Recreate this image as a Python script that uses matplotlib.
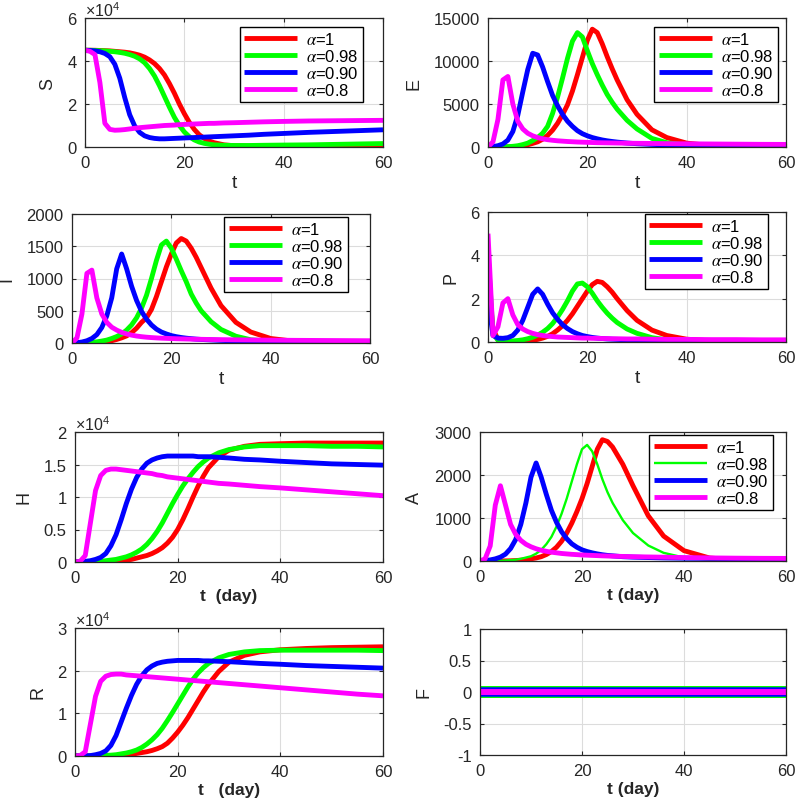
import matplotlib
matplotlib.use("Agg")
import matplotlib.pyplot as plt
from matplotlib.ticker import FuncFormatter

plt.rcParams['font.family'] = ['Liberation Sans', 'DejaVu Sans']
plt.rcParams['mathtext.fontset'] = 'stix'

# ----------------- Data -----------------
t = [0, 1, 2, 3, 4, 5, 6, 7, 8, 9, 10, 11, 12, 13, 14, 15, 16, 17, 18, 19, 20,
     21, 22, 23, 24, 25, 26, 28, 30, 33, 36, 40, 45, 50, 55, 60]

labels = [r'$\alpha$=1', r'$\alpha$=0.98', r'$\alpha$=0.90', r'$\alpha$=0.8']
colors = ['#ff0000', '#00ff00', '#0000ff', '#ff00ff']

# S (x 1e4)
S_vals = [
    [4.5, 4.5, 4.5, 4.49, 4.48, 4.47, 4.45, 4.43, 4.41, 4.38, 4.33, 4.27, 4.18, 4.05, 3.88,
     3.65, 3.35, 2.95, 2.5, 2.0, 1.55, 1.15, 0.82, 0.57, 0.4, 0.28, 0.2,
     0.1, 0.06, 0.04, 0.03, 0.03, 0.03, 0.03, 0.03, 0.03],
    [4.5, 4.5, 4.49, 4.48, 4.47, 4.45, 4.43, 4.4, 4.36, 4.3, 4.22, 4.1, 3.92, 3.65, 3.3,
     2.85, 2.35, 1.85, 1.38, 1.0, 0.7, 0.48, 0.33, 0.23, 0.17, 0.13, 0.1,
     0.08, 0.07, 0.07, 0.08, 0.09, 0.1, 0.12, 0.14, 0.16],
    [4.5, 4.49, 4.47, 4.43, 4.35, 4.2, 3.85, 3.2, 2.3, 1.5, 0.98, 0.68, 0.52, 0.44, 0.4,
     0.38, 0.38, 0.39, 0.4, 0.41, 0.42, 0.43, 0.44, 0.45, 0.46, 0.47, 0.48,
     0.5, 0.52, 0.55, 0.59, 0.63, 0.68, 0.72, 0.76, 0.8],
    [4.5, 4.45, 4.3, 3.0, 1.1, 0.82, 0.78, 0.79, 0.81, 0.84, 0.87, 0.9, 0.92, 0.94, 0.96,
     0.98, 1.0, 1.01, 1.02, 1.04, 1.05, 1.06, 1.07, 1.08, 1.09, 1.1, 1.1,
     1.12, 1.13, 1.15, 1.17, 1.19, 1.21, 1.22, 1.23, 1.24],
]

E_vals = [
    [0, 0, 0, 5, 10, 30, 70, 140, 260, 420, 600, 900, 1350, 1950, 2750,
     3750, 4900, 6500, 8400, 10400, 12400, 13700, 13300, 12000, 10500, 9100, 7800,
     5500, 3800, 2000, 1100, 450, 150, 50, 20, 10],
    [0, 0, 5, 15, 40, 80, 150, 280, 450, 750, 1100, 1600, 2400, 3900, 5800,
     8000, 10300, 12300, 13300, 12800, 11200, 9700, 8400, 7200, 6100, 5200, 4400,
     3100, 2100, 1000, 500, 200, 70, 30, 10, 5],
    [0, 50, 150, 350, 800, 1800, 3700, 6400, 9000, 10900, 10700, 9300, 7600, 6000, 4800,
     3800, 3000, 2400, 1900, 1550, 1300, 1100, 950, 820, 720, 640, 570,
     460, 380, 300, 250, 200, 160, 130, 110, 100],
    [0, 600, 3200, 7800, 8200, 5000, 3000, 2100, 1600, 1300, 1100, 950, 850, 780, 720,
     680, 640, 610, 580, 560, 540, 520, 500, 490, 480, 470, 460,
     440, 430, 410, 390, 370, 350, 330, 310, 300],
]

I_vals = [
    [0, 0, 0, 2, 4, 8, 14, 22, 35, 55, 80, 110, 160, 230, 320,
     390, 520, 720, 950, 1180, 1380, 1550, 1620, 1580, 1470, 1330, 1170,
     850, 580, 320, 170, 70, 25, 10, 5, 3],
    [0, 0, 2, 5, 10, 18, 30, 45, 70, 100, 140, 200, 280, 390, 540,
     740, 1000, 1280, 1520, 1580, 1470, 1300, 1120, 950, 760, 620, 500,
     330, 210, 105, 50, 25, 10, 4, 2, 1],
    [0, 5, 15, 35, 70, 130, 240, 420, 700, 1150, 1380, 1150, 880, 660, 490,
     370, 280, 215, 170, 140, 115, 98, 85, 75, 67, 60, 55,
     47, 40, 33, 28, 23, 19, 16, 14, 12],
    [0, 80, 450, 1080, 1130, 700, 450, 320, 245, 200, 165, 140, 122, 108, 98,
     90, 84, 79, 75, 72, 69, 66, 64, 62, 60, 58, 57,
     54, 52, 49, 47, 44, 41, 39, 37, 35],
]

P_vals = [
    [3.0, 0.6, 0.12, 0.05, 0.03, 0.02, 0.02, 0.03, 0.05, 0.08, 0.12, 0.18, 0.26, 0.38, 0.55,
     0.75, 1.0, 1.3, 1.65, 2.0, 2.35, 2.65, 2.8, 2.75, 2.55, 2.3, 2.0,
     1.45, 1.0, 0.55, 0.3, 0.13, 0.05, 0.02, 0.01, 0.01],
    [4.1, 0.4, 0.08, 0.04, 0.04, 0.05, 0.07, 0.1, 0.15, 0.22, 0.32, 0.45, 0.62, 0.85, 1.15,
     1.5, 1.9, 2.35, 2.68, 2.72, 2.55, 2.25, 1.9, 1.6, 1.33, 1.1, 0.9,
     0.6, 0.4, 0.2, 0.1, 0.05, 0.02, 0.01, 0.01, 0.01],
    [2.0, 0.3, 0.18, 0.17, 0.2, 0.3, 0.55, 1.0, 1.6, 2.2, 2.45, 2.2, 1.75, 1.35, 1.05,
     0.8, 0.62, 0.48, 0.38, 0.3, 0.25, 0.21, 0.18, 0.16, 0.14, 0.13, 0.12,
     0.1, 0.09, 0.08, 0.07, 0.06, 0.06, 0.05, 0.05, 0.05],
    [5.0, 0.3, 0.7, 1.8, 2.0, 1.25, 0.8, 0.6, 0.48, 0.4, 0.34, 0.3, 0.27, 0.25, 0.23,
     0.22, 0.21, 0.2, 0.19, 0.18, 0.18, 0.17, 0.17, 0.16, 0.16, 0.15, 0.15,
     0.14, 0.14, 0.13, 0.12, 0.12, 0.11, 0.11, 0.1, 0.1],
]

# H (x 1e4)
H_vals = [
    [0, 0, 0, 0, 0, 0, 0.005, 0.008, 0.01, 0.02, 0.03, 0.04, 0.06, 0.08, 0.1,
     0.13, 0.17, 0.22, 0.29, 0.38, 0.5, 0.65, 0.82, 1.0, 1.17, 1.32, 1.45,
     1.62, 1.72, 1.78, 1.81, 1.82, 1.83, 1.83, 1.83, 1.83],
    [0, 0, 0, 0, 0.005, 0.01, 0.02, 0.03, 0.04, 0.06, 0.08, 0.11, 0.15, 0.2, 0.27,
     0.36, 0.47, 0.6, 0.75, 0.9, 1.04, 1.17, 1.28, 1.38, 1.47, 1.54, 1.6,
     1.68, 1.73, 1.77, 1.79, 1.79, 1.79, 1.78, 1.78, 1.77],
    [0, 0.005, 0.01, 0.02, 0.04, 0.07, 0.13, 0.25, 0.42, 0.65, 0.9, 1.12, 1.3, 1.43, 1.52,
     1.57, 1.6, 1.62, 1.63, 1.63, 1.63, 1.63, 1.63, 1.63, 1.62, 1.62, 1.62,
     1.61, 1.6, 1.58, 1.57, 1.55, 1.53, 1.51, 1.5, 1.49],
    [0, 0.01, 0.1, 0.6, 1.1, 1.33, 1.41, 1.43, 1.43, 1.42, 1.41, 1.4, 1.39, 1.38, 1.37,
     1.36, 1.34, 1.33, 1.31, 1.3, 1.29, 1.28, 1.27, 1.26, 1.25, 1.24, 1.23,
     1.21, 1.2, 1.18, 1.16, 1.14, 1.11, 1.08, 1.05, 1.02],
]

A_vals = [
    [0, 0, 0, 0, 2, 3, 5, 10, 20, 30, 50, 70, 100, 150, 220,
     320, 460, 650, 880, 1150, 1450, 1800, 2200, 2600, 2820, 2780, 2650,
     2250, 1750, 1050, 580, 240, 70, 25, 10, 5],
    [0, 0, 0, 2, 5, 10, 20, 30, 50, 80, 110, 170, 260, 390, 560,
     800, 1100, 1450, 1850, 2250, 2600, 2700, 2550, 2250, 1900, 1600, 1350,
     950, 650, 360, 190, 80, 30, 12, 5, 2],
    [0, 10, 25, 50, 90, 160, 290, 500, 850, 1350, 1950, 2280, 1950, 1550, 1180,
     900, 680, 520, 400, 320, 260, 220, 190, 165, 145, 130, 120,
     100, 90, 80, 72, 65, 60, 55, 52, 50],
    [0, 50, 350, 1300, 1750, 1300, 850, 620, 480, 390, 330, 285, 250, 225, 205,
     190, 175, 165, 155, 148, 140, 135, 130, 125, 120, 116, 112,
     106, 100, 94, 88, 80, 72, 66, 62, 60],
]

# R (x 1e4)
R_vals = [
    [0, 0, 0, 0, 0, 0, 0.003, 0.006, 0.01, 0.02, 0.03, 0.04, 0.06, 0.08, 0.1,
     0.13, 0.17, 0.22, 0.3, 0.42, 0.56, 0.72, 0.9, 1.1, 1.3, 1.5, 1.68,
     1.98, 2.2, 2.36, 2.44, 2.49, 2.52, 2.54, 2.55, 2.56],
    [0, 0, 0, 0, 0.005, 0.01, 0.015, 0.02, 0.03, 0.05, 0.07, 0.1, 0.14, 0.2, 0.28,
     0.38, 0.5, 0.65, 0.83, 1.02, 1.22, 1.42, 1.62, 1.8, 1.95, 2.07, 2.17,
     2.3, 2.38, 2.44, 2.47, 2.48, 2.48, 2.48, 2.48, 2.47],
    [0, 0.002, 0.005, 0.01, 0.03, 0.06, 0.12, 0.25, 0.48, 0.8, 1.12, 1.42, 1.68, 1.88, 2.02,
     2.11, 2.17, 2.2, 2.22, 2.23, 2.24, 2.24, 2.24, 2.24, 2.24, 2.23, 2.23,
     2.22, 2.21, 2.19, 2.17, 2.15, 2.12, 2.1, 2.08, 2.06],
    [0, 0.01, 0.1, 0.75, 1.4, 1.75, 1.87, 1.91, 1.92, 1.92, 1.9, 1.89, 1.88, 1.87, 1.86,
     1.85, 1.84, 1.83, 1.82, 1.81, 1.8, 1.79, 1.78, 1.77, 1.76, 1.75, 1.74,
     1.72, 1.7, 1.67, 1.64, 1.6, 1.55, 1.5, 1.45, 1.41],
]

t_F = [0, 60]
F_vals = [[0, 0], [0, 0], [0, 0], [0, 0]]

# ----------------- Figure -----------------
fig = plt.figure(figsize=(7.96, 8.03), dpi=100)
W, H = 796.0, 803.0

def make_axes(x0, x1, y0, y1):
    # pixel box -> figure fraction
    return fig.add_axes([x0 / W, 1 - y1 / H, (x1 - x0) / W, (y1 - y0) / H])

gfmt = FuncFormatter(lambda v, p: f'{v:g}')
e4fmt = FuncFormatter(lambda v, p: f'{v / 1e4:g}')
TXT = '#262626'

def style(ax, ylim, yticks, ylabel, xlabel, sci=False, bold_x=False):
    ax.set_xlim(0, 60)
    ax.set_ylim(*ylim)
    ax.set_xticks([0, 20, 40, 60])
    ax.set_yticks(yticks)
    ax.xaxis.set_major_formatter(gfmt)
    ax.yaxis.set_major_formatter(e4fmt if sci else gfmt)
    ax.grid(True, color='#dcdcdc', linewidth=0.8)
    ax.set_axisbelow(True)
    ax.tick_params(direction='in', length=3, width=0.8, top=True, right=True,
                   labelsize=12, colors=TXT, labelcolor=TXT, pad=6)
    for sp in ax.spines.values():
        sp.set_color(TXT)
        sp.set_linewidth(0.9)
    ax.set_ylabel(ylabel, fontsize=13, color=TXT, labelpad=8)
    if bold_x:
        ax.set_xlabel(xlabel, fontsize=12.5, fontweight='bold', color=TXT, labelpad=2)
    else:
        ax.set_xlabel(xlabel, fontsize=14, color=TXT, labelpad=3)
    if sci:
        ax.text(0.0, 1.0, r'×10$^{\mathregular{4}}$', transform=ax.transAxes,
                fontsize=11.5, color=TXT, ha='left', va='bottom')

def curves(ax, tt, vals, scale=1.0, lws=(3.5, 3.5, 3.5, 3.5)):
    for v, c, lab, lw in zip(vals, colors, labels, lws):
        ax.plot(tt, [x * scale for x in v], color=c, lw=lw, label=lab,
                solid_capstyle='butt', snap=False)

def legend(ax, right, top):
    lg = ax.legend(loc='upper right', bbox_to_anchor=(right, top), borderaxespad=0,
                   fontsize=12, handlelength=3.2, handletextpad=0.55, borderpad=0.25,
                   labelspacing=0.05, fancybox=False, framealpha=1, edgecolor='black')
    lg.get_frame().set_linewidth(1.0)

# S
ax = make_axes(85, 383, 19, 148)
curves(ax, t, S_vals, scale=1e4)
style(ax, (0, 6e4), [0, 2e4, 4e4, 6e4], 'S', 't', sci=True)
legend(ax, 0.933, 0.93)

# E
ax = make_axes(488, 786, 19, 148)
curves(ax, t, E_vals)
style(ax, (0, 15000), [0, 5000, 10000, 15000], 'E', 't')
legend(ax, 0.973, 0.93)

# I
ax = make_axes(72, 370, 215, 344)
curves(ax, t, I_vals)
style(ax, (0, 2000), [0, 500, 1000, 1500, 2000], 'I', 't')
legend(ax, 0.926, 0.977)

# P
ax = make_axes(488, 786, 213, 343)
curves(ax, t, P_vals)
style(ax, (0, 6), [0, 2, 4, 6], 'P', 't')
legend(ax, 0.94, 0.985)

# H
ax = make_axes(75, 383, 433, 563)
curves(ax, t, H_vals, scale=1e4)
style(ax, (0, 2e4), [0, 0.5e4, 1e4, 1.5e4, 2e4], 'H', 't  (day)', sci=True, bold_x=True)

# A
ax = make_axes(480, 786, 433, 562)
curves(ax, t, A_vals, lws=(3.5, 1.7, 3.5, 3.5))
style(ax, (0, 3000), [0, 1000, 2000, 3000], 'A', 't (day)', bold_x=True)
legend(ax, 0.957, 0.977)

# R
ax = make_axes(75, 383, 629, 757)
curves(ax, t, R_vals, scale=1e4)
style(ax, (0, 3e4), [0, 1e4, 2e4, 3e4], 'R', 't   (day)', sci=True, bold_x=True)

# F
ax = make_axes(480, 786, 630, 756)
curves(ax, t_F, F_vals, lws=(8.0, 8.6, 6.8, 4.3))
style(ax, (-1, 1), [-1, -0.5, 0, 0.5, 1], 'F', 't (day)', bold_x=True)

fig.savefig('out.png', dpi=100)
